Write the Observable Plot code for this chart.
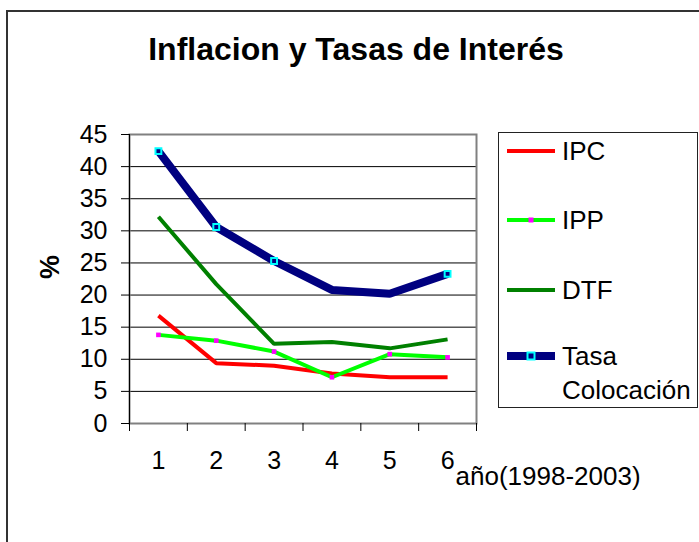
<!DOCTYPE html>
<html>
<head>
<meta charset="utf-8">
<script src="https://cdn.jsdelivr.net/npm/d3@7"></script>
<script src="https://cdn.jsdelivr.net/npm/@observablehq/plot@0.6"></script>
<style>
  html, body { margin: 0; padding: 0; background: #fff; }
  #chart { width: 699px; height: 542px; overflow: hidden; }
</style>
</head>
<body>
<div id="chart"></div>
<script>
// ---- data ----
const years = [1, 2, 3, 4, 5, 6];
const xTickLabels = ["1", "2", "3", "4", "5", "6"];
const ipc  = [16.8, 9.4, 9.0, 7.8, 7.2, 7.2];
const ipp  = [13.8, 12.9, 11.2, 7.2, 10.8, 10.3];
const dtf  = [32.2, 21.7, 12.4, 12.7, 11.7, 13.1];
const tasa = [42.4, 30.6, 25.3, 20.8, 20.2, 23.3];
const tasaMarkerShown = [true, true, true, false, false, true];
const yTicks = [0, 5, 10, 15, 20, 25, 30, 35, 40, 45];
const xBoundaries = [0.5, 1.5, 2.5, 3.5, 4.5, 5.5, 6.5];
const seriesNames = ["IPC", "IPP", "DTF", "Tasa Colocación"];
const titleText = "Inflacion y Tasas de Interés";
const yLabel = "%";
const xLabel = "año(1998-2003)";

// ---- styles ----
const colors = { IPC: "#FF0000", IPP: "#00FF00", DTF: "#008000", Tasa: "#000080" };
const FONT = "'Liberation Sans', Arial, Helvetica, sans-serif";

const rows = (vals, name) => years.map((x, i) => ({ x, y: vals[i], name, i }));
const ipcRows = rows(ipc, "IPC");
const ippRows = rows(ipp, "IPP");
const dtfRows = rows(dtf, "DTF");
const tasaRows = rows(tasa, "Tasa Colocación");

const chart = Plot.plot({
  width: 699,
  height: 542,
  marginLeft: 129,
  marginRight: 223,
  marginTop: 134,
  marginBottom: 119,
  x: { domain: [0.5, 6.5] },
  y: { domain: [0, 45] },
  style: { fontFamily: FONT, background: "white", color: "black", overflow: "visible" },
  marks: [
    Plot.ruleY(yTicks.filter(d => d > 0 && d < 45), { stroke: "black", strokeWidth: 1 }),
    Plot.frame({ stroke: "#808080", strokeWidth: 2 }),
    Plot.ruleX([0.5], { stroke: "black", strokeWidth: 1 }),
    Plot.axisY({ ticks: yTicks, tickSize: 8, tickPadding: 14, fontSize: 25, label: null, stroke: "black" }),
    Plot.axisX({ ticks: xBoundaries, tickSize: 8, tickFormat: () => "", label: null, stroke: "black" }),
    Plot.axisX({ ticks: years, tickSize: 0, tickPadding: 28, fontSize: 25, label: null,
      tickFormat: (d, i) => xTickLabels[i] }),
    Plot.line(ipcRows, { x: "x", y: "y", stroke: colors.IPC, strokeWidth: 4, strokeLinejoin: "miter", strokeLinecap: "butt" }),
    Plot.line(dtfRows, { x: "x", y: "y", stroke: colors.DTF, strokeWidth: 4, strokeLinejoin: "miter", strokeLinecap: "butt" }),
    Plot.line(ippRows, { x: "x", y: "y", stroke: colors.IPP, strokeWidth: 4, strokeLinejoin: "miter", strokeLinecap: "butt" }),
    Plot.dot(ippRows, { x: "x", y: "y", symbol: "square", r: 2.6, fill: "#FF00FF" }),
    Plot.line(tasaRows, { x: "x", y: "y", stroke: colors.Tasa, strokeWidth: 8, strokeLinejoin: "miter", strokeLinecap: "butt" }),
    Plot.dot(tasaRows.filter(d => tasaMarkerShown[d.i]), { x: "x", y: "y", symbol: "square", r: 3.3, fill: colors.Tasa, stroke: "#00FFFF", strokeWidth: 2 }),
    Plot.text([yLabel], { frameAnchor: "left", dx: -79, rotate: -90, fontWeight: "bold", fontSize: 27 }),
    Plot.text([xLabel], { frameAnchor: "bottom-right", dx: -21, dy: 43, textAnchor: "start", lineAnchor: "top", fontSize: 26 }),
    Plot.text([titleText], { frameAnchor: "top", dx: 53, dy: -97, lineAnchor: "top", fontSize: 32, fontWeight: "bold" })
  ]
});

document.getElementById("chart").appendChild(chart);

// ---- outer chart border and legend ----
const svg = d3.select(chart);
svg.append("rect")
  .attr("x", 7).attr("y", 11).attr("width", 760).attr("height", 600)
  .attr("fill", "none").attr("stroke", "#333").attr("stroke-width", 2);

const lg = svg.append("g").attr("font-family", FONT).attr("font-size", 26).attr("text-anchor", "start");
lg.append("rect")
  .attr("x", 498.5).attr("y", 132.5).attr("width", 199).attr("height", 275)
  .attr("fill", "white").attr("stroke", "#222").attr("stroke-width", 1);

const legendY = [151, 220, 290, 356];
const legendKeys = ["IPC", "IPP", "DTF", "Tasa"];
const legendW = [4, 4, 4, 8];
seriesNames.forEach((name, k) => {
  const y = legendY[k];
  lg.append("line").attr("x1", 507).attr("x2", 555).attr("y1", y).attr("y2", y)
    .attr("stroke", colors[legendKeys[k]]).attr("stroke-width", legendW[k]);
  if (legendKeys[k] === "IPP") {
    lg.append("rect").attr("x", 528.5).attr("y", y - 2.5).attr("width", 5).attr("height", 5).attr("fill", "#FF00FF");
  }
  if (legendKeys[k] === "Tasa") {
    lg.append("rect").attr("x", 527.5).attr("y", y - 3.5).attr("width", 7).attr("height", 7)
      .attr("fill", colors.Tasa).attr("stroke", "#00FFFF").attr("stroke-width", 2);
  }
  const parts = name.split(" ");
  parts.forEach((p, j) => {
    lg.append("text").attr("x", 562).attr("y", y + j * 34).attr("dy", "0.36em")
      .attr("text-anchor", "start").attr("fill", "black").text(p);
  });
});
</script>
</body>
</html>
